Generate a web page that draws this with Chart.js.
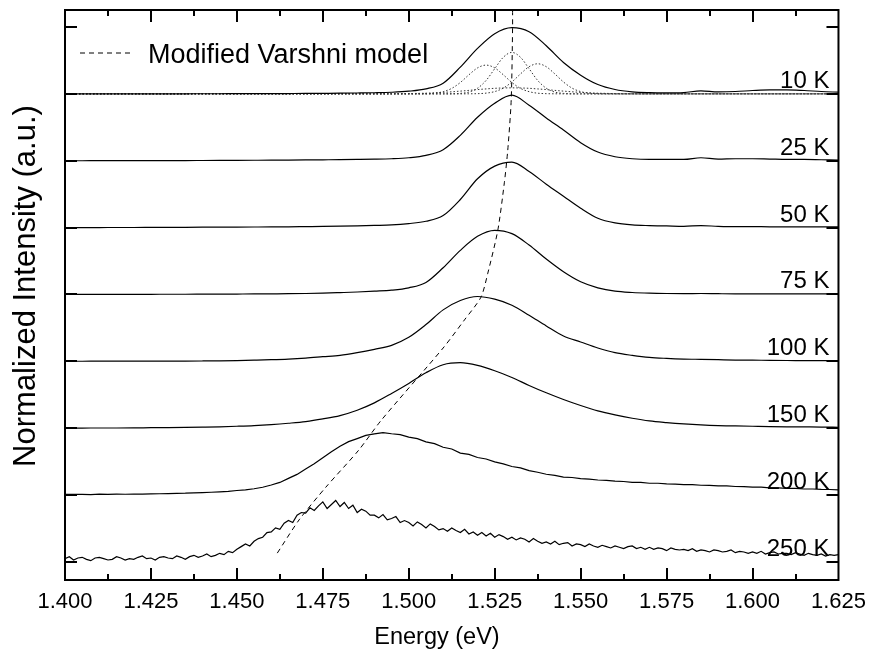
<!DOCTYPE html>
<html>
<head>
<meta charset="utf-8">
<title>PL spectra vs temperature</title>
<script src="https://cdn.jsdelivr.net/npm/chart.js@4.4.1/dist/chart.umd.min.js"></script>
<style>
  html, body { margin: 0; padding: 0; background: #fff; }
  canvas { display: block; }
</style>
</head>
<body>
<canvas id="plChart" width="875" height="663"></canvas>
<script>
// Energy grids (eV)
const energyCoarse = [1.400,1.405,1.410,1.415,1.420,1.425,1.430,1.435,1.440,1.445,
  1.450,1.455,1.460,1.465,1.470,1.475,1.480,1.485,1.490,1.495,
  1.500,1.505,1.510,1.515,1.520,1.525,1.530,1.535,1.540,1.545,
  1.550,1.555,1.560,1.565,1.570,1.575,1.580,1.585,1.590,1.595,
  1.600,1.605,1.610,1.615,1.620,1.625];
const energyFine = [1.400,1.4025,1.405,1.4075,1.410,1.4125,1.415,1.4175,
  1.420,1.4225,1.425,1.4275,1.430,1.4325,1.435,1.4375,
  1.440,1.4425,1.445,1.4475,1.450,1.4525,1.455,1.4575,
  1.460,1.4625,1.465,1.4675,1.470,1.4725,1.475,1.4775,
  1.480,1.4825,1.485,1.4875,1.490,1.4925,1.495,1.4975,
  1.500,1.5025,1.505,1.5075,1.510,1.5125,1.515,1.5175,
  1.520,1.5225,1.525,1.5275,1.530,1.5325,1.535,1.5375,
  1.540,1.5425,1.545,1.5475,1.550,1.5525,1.555,1.5575,
  1.560,1.5625,1.565,1.5675,1.570,1.5725,1.575,1.5775,
  1.580,1.5825,1.585,1.5875,1.590,1.5925,1.595,1.5975,
  1.600,1.6025,1.605,1.6075,1.610,1.6125,1.615,1.6175,
  1.620,1.6225,1.625];
const energyDense = [1.400,1.40125,1.4025,1.40375,1.405,1.40625,1.4075,1.40875,
  1.410,1.41125,1.4125,1.41375,1.415,1.41625,1.4175,1.41875,
  1.420,1.42125,1.4225,1.42375,1.425,1.42625,1.4275,1.42875,
  1.430,1.43125,1.4325,1.43375,1.435,1.43625,1.4375,1.43875,
  1.440,1.44125,1.4425,1.44375,1.445,1.44625,1.4475,1.44875,
  1.450,1.45125,1.4525,1.45375,1.455,1.45625,1.4575,1.45875,
  1.460,1.46125,1.4625,1.46375,1.465,1.46625,1.4675,1.46875,
  1.470,1.47125,1.4725,1.47375,1.475,1.47625,1.4775,1.47875,
  1.480,1.48125,1.4825,1.48375,1.485,1.48625,1.4875,1.48875,
  1.490,1.49125,1.4925,1.49375,1.495,1.49625,1.4975,1.49875,
  1.500,1.50125,1.5025,1.50375,1.505,1.50625,1.5075,1.50875,
  1.510,1.51125,1.5125,1.51375,1.515,1.51625,1.5175,1.51875,
  1.520,1.52125,1.5225,1.52375,1.525,1.52625,1.5275,1.52875,
  1.530,1.53125,1.5325,1.53375,1.535,1.53625,1.5375,1.53875,
  1.540,1.54125,1.5425,1.54375,1.545,1.54625,1.5475,1.54875,
  1.550,1.55125,1.5525,1.55375,1.555,1.55625,1.5575,1.55875,
  1.560,1.56125,1.5625,1.56375,1.565,1.56625,1.5675,1.56875,
  1.570,1.57125,1.5725,1.57375,1.575,1.57625,1.5775,1.57875,
  1.580,1.58125,1.5825,1.58375,1.585,1.58625,1.5875,1.58875,
  1.590,1.59125,1.5925,1.59375,1.595,1.59625,1.5975,1.59875,
  1.600,1.60125,1.6025,1.60375,1.605,1.60625,1.6075,1.60875,
  1.610,1.61125,1.6125,1.61375,1.615,1.61625,1.6175,1.61875,
  1.620,1.62125,1.6225,1.62375,1.625];
const energyFit = [1.400,
  1.490,1.4925,1.495,1.4975,1.500,1.5025,1.505,1.5075,1.510,1.5125,
  1.515,1.5175,1.520,1.5225,1.525,1.5275,1.530,1.5325,1.535,1.5375,
  1.540,1.5425,1.545,1.5475,1.550,1.5525,1.555,1.5575,1.560,1.5625,
  1.565,1.5675,1.570,1.5725,1.575,
  1.625];

// Normalized PL intensity per temperature (each peak ~1)
const pl10K = [0.000,0.000,0.000,0.000,0.000,0.001,0.001,0.001,0.002,0.002,
  0.003,0.003,0.004,0.005,0.006,0.008,0.010,0.013,0.017,0.024,
  0.040,0.075,0.160,0.400,0.680,0.900,0.990,0.930,0.720,0.470,
  0.280,0.140,0.065,0.030,0.018,0.015,0.020,0.045,0.030,0.035,
  0.050,0.060,0.060,0.050,0.035,0.025];
const pl25K = [0.000,0.000,0.001,0.001,0.002,0.002,0.003,0.003,0.004,0.005,
  0.006,0.007,0.008,0.010,0.012,0.014,0.016,0.019,0.023,0.030,
  0.045,0.080,0.165,0.380,0.650,0.860,0.980,0.830,0.640,0.460,
  0.270,0.130,0.060,0.030,0.020,0.020,0.020,0.045,0.025,0.030,
  0.030,0.025,0.020,0.020,0.015,0.010];
const pl50K = [0.000,0.001,0.001,0.002,0.002,0.003,0.004,0.005,0.006,0.007,
  0.008,0.009,0.010,0.012,0.015,0.018,0.022,0.027,0.033,0.040,
  0.060,0.095,0.180,0.420,0.730,0.920,0.980,0.840,0.650,0.470,
  0.290,0.140,0.070,0.040,0.030,0.025,0.020,0.030,0.020,0.015,
  0.015,0.012,0.012,0.010,0.010,0.010];
const pl75K = [0.001,0.001,0.002,0.002,0.003,0.003,0.004,0.004,0.005,0.006,
  0.007,0.008,0.010,0.012,0.015,0.020,0.028,0.037,0.050,0.065,
  0.100,0.180,0.400,0.660,0.870,0.960,0.910,0.740,0.530,0.340,
  0.190,0.100,0.050,0.030,0.020,0.015,0.013,0.015,0.012,0.010,
  0.010,0.010,0.010,0.008,0.008,0.008];
const pl100K = [0.002,0.002,0.003,0.003,0.004,0.004,0.005,0.005,0.006,0.008,
  0.012,0.018,0.025,0.035,0.050,0.070,0.090,0.130,0.180,0.240,
  0.360,0.550,0.770,0.910,0.970,0.930,0.840,0.690,0.530,0.380,
  0.290,0.200,0.130,0.090,0.060,0.045,0.035,0.030,0.025,0.020,
  0.018,0.015,0.013,0.012,0.010,0.010];
const pl150K = [0.003,0.003,0.004,0.004,0.005,0.008,0.010,0.013,0.017,0.022,
  0.030,0.040,0.055,0.075,0.100,0.140,0.190,0.270,0.380,0.520,
  0.670,0.830,0.950,0.980,0.940,0.860,0.760,0.640,0.530,0.430,
  0.340,0.260,0.200,0.150,0.110,0.085,0.065,0.050,0.040,0.035,
  0.030,0.025,0.022,0.020,0.018,0.015];
const pl200K = [0.010,0.013,0.011,0.009,0.014,0.012,0.015,0.013,
  0.017,0.016,0.020,0.021,0.023,0.027,0.029,0.034,
  0.038,0.043,0.050,0.057,0.069,0.078,0.095,0.118,
  0.152,0.190,0.250,0.310,0.392,0.470,0.560,0.648,
  0.732,0.800,0.845,0.893,0.915,0.935,0.918,0.905,
  0.868,0.845,0.796,0.770,0.716,0.690,0.628,0.610,
  0.563,0.540,0.497,0.468,0.428,0.408,0.366,0.342,
  0.312,0.295,0.270,0.264,0.246,0.240,0.226,0.220,
  0.208,0.204,0.192,0.190,0.178,0.178,0.168,0.166,
  0.158,0.157,0.148,0.147,0.139,0.138,0.129,0.128,
  0.119,0.119,0.110,0.108,0.100,0.100,0.092,0.092,
  0.085,0.084,0.079];
const pl250K = [0.05,0.08,0.03,0.06,0.07,0.04,0.02,0.06,
  0.07,0.05,0.03,0.04,0.08,0.06,0.03,0.05,
  0.04,0.07,0.09,0.05,0.06,0.03,0.07,0.08,
  0.06,0.05,0.09,0.07,0.04,0.08,0.10,0.07,
  0.09,0.12,0.08,0.10,0.13,0.11,0.16,0.14,
  0.19,0.23,0.27,0.24,0.31,0.35,0.37,0.44,
  0.45,0.51,0.49,0.58,0.62,0.59,0.70,0.74,
  0.73,0.81,0.77,0.84,0.90,0.80,0.86,0.92,
  0.83,0.89,0.80,0.85,0.74,0.79,0.76,0.70,
  0.70,0.66,0.71,0.63,0.65,0.68,0.59,0.62,
  0.59,0.54,0.60,0.56,0.51,0.57,0.53,0.48,
  0.50,0.46,0.51,0.47,0.44,0.49,0.42,0.45,
  0.40,0.44,0.39,0.43,0.37,0.41,0.38,0.34,
  0.37,0.33,0.36,0.34,0.30,0.35,0.31,0.28,
  0.30,0.27,0.31,0.26,0.28,0.29,0.24,0.27,
  0.26,0.23,0.27,0.24,0.22,0.25,0.23,0.21,
  0.24,0.22,0.20,0.23,0.24,0.20,0.22,0.19,
  0.22,0.19,0.21,0.20,0.17,0.21,0.19,0.18,
  0.19,0.17,0.20,0.16,0.18,0.17,0.15,0.18,
  0.17,0.15,0.16,0.18,0.14,0.16,0.15,0.13,
  0.15,0.13,0.16,0.12,0.14,0.15,0.12,0.13,
  0.13,0.11,0.14,0.12,0.10,0.13,0.11,0.10,
  0.12,0.09,0.11,0.10,0.11];

// 10 K peak-fit components (dotted)
const fitLeft = [0,
  0,0,0,0,0,0.001,0.003,0.010,0.033,0.082,
  0.170,0.285,0.388,0.430,0.388,0.285,0.170,0.082,0.033,0.010,
  0.003,0.001,0,0,0,0,0,0,0,0,
  0,0,0,0,0,
  0];
const fitCenter = [0,
  0,0,0,0,0,0,0,0,0,0.001,
  0.007,0.027,0.084,0.201,0.376,0.547,0.620,0.547,0.376,0.201,
  0.084,0.027,0.007,0.001,0,0,0,0,0,0,
  0,0,0,0,0,
  0];
const fitRight = [0,
  0,0,0,0,0,0,0,0,0,0,
  0,0.001,0.003,0.011,0.034,0.086,0.178,0.298,0.406,0.450,
  0.406,0.298,0.178,0.086,0.034,0.011,0.003,0.001,0,0,
  0,0,0,0,0,
  0];
const fitBroad = [0,
  0,0,0.001,0.002,0.004,0.007,0.010,0.016,0.022,0.031,
  0.041,0.052,0.064,0.074,0.083,0.088,0.090,0.088,0.083,0.074,
  0.064,0.052,0.041,0.031,0.022,0.016,0.010,0.007,0.004,0.002,
  0.001,0,0,0,0,
  0];

// Modified Varshni model: peak energy vs. stacked position
const varshniEnergy = [1.5302,1.5302,1.5298,1.5288,1.5278,1.5259,1.5230,1.5210,1.5162,1.5100,1.4920,1.4854,1.4759,1.4681,1.4614];
const varshniLevel = [8.25,7.99,6.91,6.16,5.67,4.96,4.32,3.96,3.62,3.20,2.12,1.67,1.12,0.63,0.105];

const tempLabels = ['10 K','25 K','50 K','75 K','100 K','150 K','200 K','250 K'];
const tempOffsets = [7,6,5,4,3,2,1,0];
const yTickValues = [0,1,2,3,4,5,6,7,8];

const spectra = [
  {data: pl10K, energy: energyCoarse, smooth: true},
  {data: pl25K, energy: energyCoarse, smooth: true},
  {data: pl50K, energy: energyCoarse, smooth: true},
  {data: pl75K, energy: energyCoarse, smooth: true},
  {data: pl100K, energy: energyCoarse, smooth: true},
  {data: pl150K, energy: energyCoarse, smooth: true},
  {data: pl200K, energy: energyFine, smooth: false},
  {data: pl250K, energy: energyDense, smooth: false}
];

function stack(energy, values, offset) {
  return energy.map((e, i) => ({x: e, y: values[i] + offset}));
}

const datasets = [];
spectra.forEach((s, k) => {
  datasets.push({
    label: tempLabels[k],
    data: stack(s.energy, s.data, tempOffsets[k]),
    borderColor: '#000',
    borderWidth: 1.2,
    pointRadius: 0,
    cubicInterpolationMode: s.smooth ? 'monotone' : 'default',
    tension: 0
  });
});
[fitLeft, fitCenter, fitRight, fitBroad].forEach((f, k) => {
  datasets.push({
    label: 'fit ' + k,
    data: stack(energyFit, f, tempOffsets[0]),
    borderColor: '#333',
    borderWidth: 1,
    borderDash: [1.5, 2],
    pointRadius: 0,
    cubicInterpolationMode: 'monotone'
  });
});
datasets.push({
  label: 'Modified Varshni model',
  data: varshniEnergy.map((e, i) => ({x: e, y: varshniLevel[i]})),
  borderColor: '#000',
  borderWidth: 1,
  borderDash: [5, 4],
  pointRadius: 0,
  tension: 0.25
});

const FONT = '"Liberation Sans", Arial, sans-serif';

// frame, inward ticks, axis titles, temperature labels and legend
const decorPlugin = {
  id: 'decor',
  afterDraw(chart) {
    const {ctx, chartArea: a, scales: {x, y}} = chart;
    ctx.save();
    ctx.strokeStyle = '#000';
    ctx.lineWidth = 2;
    ctx.strokeRect(a.left, a.top, a.right - a.left, a.bottom - a.top);

    ctx.beginPath();
    const majors = x.ticks.map(t => t.value);
    majors.forEach((v, i) => {
      const px = Math.round(x.getPixelForValue(v));
      if (i > 0 && i < majors.length - 1) {
        ctx.moveTo(px, a.bottom); ctx.lineTo(px, a.bottom - 12);
        ctx.moveTo(px, a.top); ctx.lineTo(px, a.top + 12);
      }
      if (i < majors.length - 1) {
        const mx = Math.round(x.getPixelForValue((v + majors[i + 1]) / 2));
        ctx.moveTo(mx, a.bottom); ctx.lineTo(mx, a.bottom - 6);
        ctx.moveTo(mx, a.top); ctx.lineTo(mx, a.top + 6);
      }
    });
    yTickValues.forEach(v => {
      const py = Math.round(y.getPixelForValue(v));
      ctx.moveTo(a.left, py); ctx.lineTo(a.left + 12, py);
      ctx.moveTo(a.right, py); ctx.lineTo(a.right - 12, py);
    });
    ctx.stroke();

    ctx.fillStyle = '#000';
    ctx.textBaseline = 'alphabetic';

    // axis titles
    ctx.font = '23.5px ' + FONT;
    ctx.textAlign = 'center';
    ctx.fillText('Energy (eV)', 437, 644);
    ctx.save();
    ctx.translate(35, 286);
    ctx.rotate(-Math.PI / 2);
    ctx.font = '31px ' + FONT;
    ctx.fillText('Normalized Intensity (a.u.)', 0, 0);
    ctx.restore();

    // temperature labels
    ctx.font = '24px ' + FONT;
    ctx.textAlign = 'right';
    tempLabels.forEach((t, k) => {
      ctx.fillText(t, a.right - 9, y.getPixelForValue(tempOffsets[k]) - 6);
    });

    // legend
    ctx.beginPath();
    ctx.lineWidth = 1;
    ctx.setLineDash([5, 4]);
    ctx.moveTo(80, 53); ctx.lineTo(134, 53);
    ctx.stroke();
    ctx.setLineDash([]);
    ctx.textAlign = 'left';
    ctx.font = '27px ' + FONT;
    ctx.fillText('Modified Varshni model', 148, 63);
    ctx.restore();
  }
};

Chart.defaults.font.family = FONT;
Chart.defaults.color = '#000';

new Chart(document.getElementById('plChart').getContext('2d'), {
  type: 'line',
  data: {datasets: datasets},
  options: {
    responsive: false,
    animation: false,
    devicePixelRatio: 1,
    layout: {padding: {top: 10, right: 32, bottom: 0, left: 0}},
    plugins: {legend: {display: false}, tooltip: {enabled: false}},
    scales: {
      x: {
        type: 'linear',
        min: 1.4,
        max: 1.625,
        afterFit: s => { s.height = 83; },
        grid: {display: false, drawTicks: false},
        border: {display: false},
        ticks: {
          stepSize: 0.025,
          padding: 9,
          autoSkip: false,
          maxRotation: 0,
          font: {size: 22},
          callback: v => Number(v).toFixed(3)
        },
        title: {display: false, text: 'Energy (eV)'}
      },
      y: {
        type: 'linear',
        min: -0.269,
        max: 8.254,
        afterFit: s => { s.width = 65; },
        grid: {display: false, drawTicks: false},
        border: {display: false},
        ticks: {display: false},
        title: {display: false, text: 'Normalized Intensity (a.u.)'}
      }
    }
  },
  plugins: [decorPlugin]
});
</script>
</body>
</html>
